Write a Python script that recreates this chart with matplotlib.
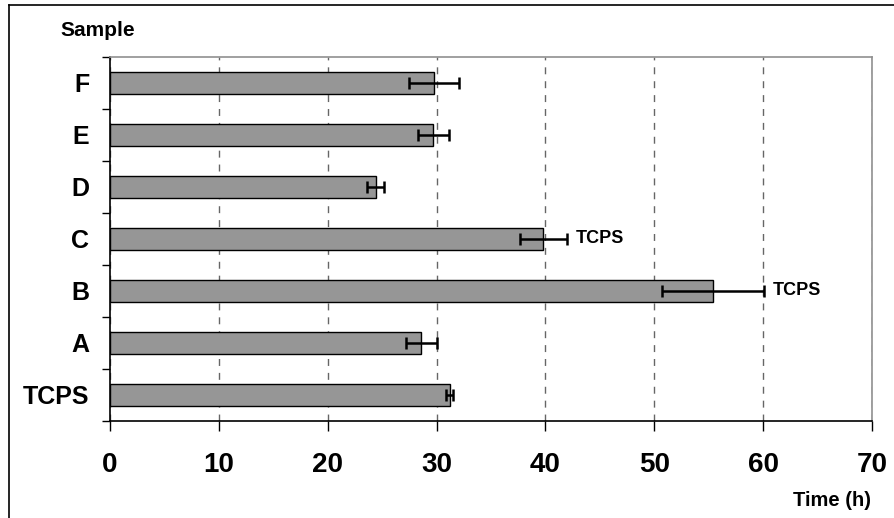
import matplotlib
matplotlib.use("Agg")
import matplotlib.pyplot as plt
from matplotlib.lines import Line2D

samples = ["TCPS", "A", "B", "C", "D", "E", "F"]
times = [31.2, 28.6, 55.4, 39.8, 24.4, 29.7, 29.8]
errors = [0.35, 1.4, 4.65, 2.15, 0.8, 1.45, 2.3]
notes = ["", "", "TCPS", "TCPS", "", "", ""]
xticks = [0, 10, 20, 30, 40, 50, 60, 70]

plt.rcParams['font.family'] = ['Liberation Sans', 'DejaVu Sans']
plt.rcParams['font.weight'] = 'bold'

fig = plt.figure(figsize=(8.95, 5.18), dpi=100)
ax = fig.add_axes([0.1229, 0.1873, 0.8514, 0.7027])

pos = list(range(len(samples)))
ax.barh(pos, times, height=0.42, color='#969696', edgecolor='black', linewidth=1.0, zorder=3)
ax.errorbar(times, pos, xerr=errors, fmt='none', ecolor='black', elinewidth=1.8,
            capsize=4, capthick=1.8, zorder=4)
for p, t, e, n in zip(pos, times, errors, notes):
    if n:
        ax.text(t + e + 0.8, p, n, va='center', ha='left', fontsize=13, fontweight='bold')

ax.set_xlim(0, 70)
ax.set_ylim(-0.5, len(samples) - 0.5)
ax.set_xticks(xticks)
ax.set_xticklabels([str(v) for v in xticks], fontsize=20, fontweight='bold')
ax.set_yticks(pos)
ax.set_yticklabels(samples, fontsize=18, fontweight='bold')
ax.set_yticks([p + 0.5 for p in range(-1, len(samples))], minor=True)
ax.tick_params(axis='y', which='major', length=0, pad=15)
ax.tick_params(axis='y', which='minor', length=6, width=1, direction='out')
ax.tick_params(axis='x', which='major', length=7, width=1, direction='out', pad=15)

ax.xaxis.grid(True, linestyle=(0, (5, 5)), color='#666666', linewidth=1.0, zorder=0)
ax.spines['left'].set_color('black')
ax.spines['bottom'].set_color('black')
ax.spines['top'].set_color('#909090')
ax.spines['right'].set_color('#909090')
for s in ax.spines.values():
    s.set_linewidth(1.2)

fig.text(60 / 895, 1 - 30 / 518, "Sample", fontsize=15, fontweight='bold', va='center', ha='left')
fig.text(871 / 895, 1 - 501 / 518, "Time (h)", fontsize=14.5, fontweight='bold', va='center', ha='right')

# outer frame (partially cropped in the original)
fig.add_artist(Line2D([9 / 895, 9 / 895], [0, 1 - 5 / 518], transform=fig.transFigure,
                      color='black', linewidth=1.2))
fig.add_artist(Line2D([9 / 895, 1], [1 - 5 / 518, 1 - 5 / 518], transform=fig.transFigure,
                      color='black', linewidth=1.2))

fig.savefig("out.png", dpi=100)
